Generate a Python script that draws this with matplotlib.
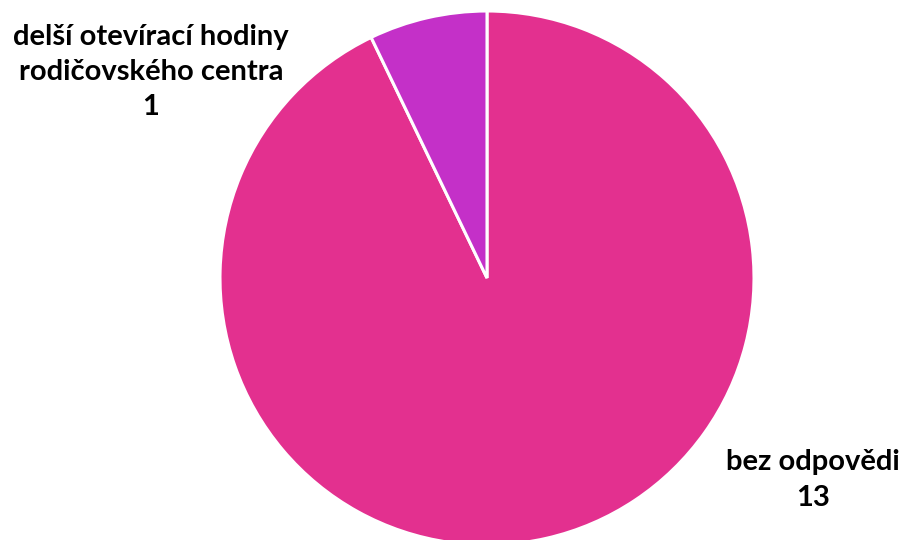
import matplotlib
matplotlib.use('Agg')
import matplotlib.pyplot as plt

# odpovědi z dotazníku
labels = ['bez odpovědi', 'delší otevírací hodiny\nrodičovského centra']
values = [13, 1]
colors = ['#E3308F', '#C430C8']

plt.rcParams['font.family'] = ['Lato', 'DejaVu Sans']

fig = plt.figure(figsize=(9.05, 5.4), dpi=100)
ax = fig.add_axes([220 / 905, -5 / 540, 534 / 905, 534 / 540])

wedges, _ = ax.pie(values, colors=colors, startangle=90, counterclock=False,
                   radius=1, wedgeprops=dict(edgecolor='white', linewidth=2.2))
for w in wedges:
    w.set_clip_on(False)
ax.set_xlim(-1, 1)
ax.set_ylim(-1, 1)
ax.set_aspect('equal')
ax.axis('off')

# popisky s počty
fig.text(813 / 905, 1 - 480 / 540, f'{labels[0]}\n{values[0]}', ha='center', va='center',
         fontsize=21, fontweight='bold', linespacing=1.45)
fig.text(151 / 905, 1 - 72 / 540, f'{labels[1]}\n{values[1]}', ha='center', va='center',
         fontsize=21, fontweight='bold', linespacing=1.45)

plt.savefig('out.png', dpi=100)
